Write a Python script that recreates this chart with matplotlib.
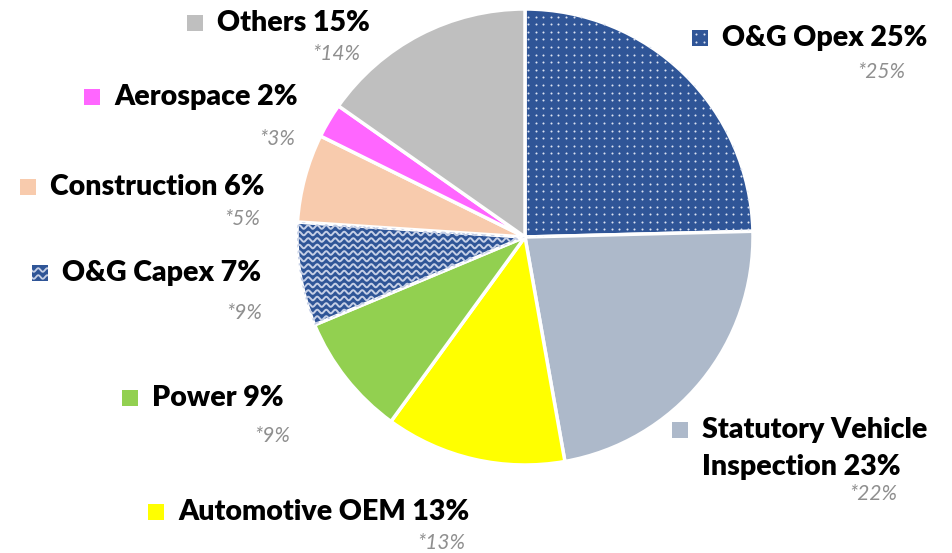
import numpy as np
import matplotlib.pyplot as plt
from matplotlib.patches import Rectangle

# segments, clockwise from 12 o'clock
segments = ["O&G Opex", "Statutory Vehicle\nInspection", "Automotive OEM", "Power",
            "O&G Capex", "Construction", "Aerospace", "Others"]
sizes = [24.6, 22.6, 12.8, 8.7, 7.35, 6.25, 2.45, 15.25]
shares = [25, 23, 13, 9, 7, 6, 2, 15]
prior = [25, 22, 13, 9, 9, 5, 3, 14]
colors = ["#2F5597", "#ADB9CA", "#FFFF00", "#92D050",
          "#2F5597", "#F8CBAD", "#FF66FF", "#BFBFBF"]

# label anchors in pixels from top-left (marker x, first line y, note right x, note y)
label_pos = [(700, 38, 905, 72), (680, 430, 897, 494), (156, 512, 465, 543),
             (130, 398, 290, 436), (40, 273, 262, 313), (28, 187, 260, 219),
             (92, 97, 295, 139), (195, 23, 360, 54)]

W, H = 953, 553
fig = plt.figure(figsize=(W / 100, H / 100), dpi=100)
ax = fig.add_axes([0, 0, 1, 1])

cx, cy, r = 525, H - 237, 228
wedges, _ = ax.pie(sizes, colors=colors, startangle=90, counterclock=False,
                   center=(cx, cy), radius=r, frame=True,
                   wedgeprops=dict(edgecolor="white", linewidth=2.5))
ax.set_xlim(0, W)
ax.set_ylim(0, H)
ax.set_aspect("equal")
ax.axis("off")


def dot_fill(patch, x0, x1, y0, y1, step=7.6):
    gx, gy = np.meshgrid(np.arange(x0, x1, step), np.arange(y0, y1, step))
    sc = ax.scatter(gx.ravel(), gy.ravel(), s=2.2, color="#DCE3F2", linewidths=0, zorder=3)
    sc.set_clip_path(patch)


def wave_fill(patch, x0, x1, y0, y1, step=6.5, lw=1.4):
    xs = np.linspace(x0, x1, 600)
    for yb in np.arange(y0, y1, step):
        ln, = ax.plot(xs, yb + 1.8 * np.sin(xs * 2 * np.pi / 9), color="#C5CFE6", lw=lw)
        ln.set_clip_path(patch)


# dotted fill on O&G Opex, wavy fill on O&G Capex
dot_fill(wedges[0], cx + 3, cx + r, cy, cy + r)
wave_fill(wedges[4], cx - r, cx, cy - 120, cy + 40)

font = "Lato"
for i, (name, s, p, col, (mx, my, nx, ny)) in enumerate(
        zip(segments, shares, prior, colors, label_pos)):
    sq = Rectangle((mx - 8, H - my - 8), 16, 16, facecolor=col, edgecolor="none")
    ax.add_patch(sq)
    if i == 0:
        dot_fill(sq, mx - 4, mx + 8, H - my - 4, H - my + 8, step=8)
    if i == 4:
        wave_fill(sq, mx - 8, mx + 8, H - my - 4, H - my + 8, step=7, lw=1.3)
    lines = f"{name} {s}%".split("\n")
    for k, line in enumerate(lines):
        ax.text(mx + 22, H - my - 37 * k, line, fontsize=20.5, fontweight="heavy",
                family=font, va="center", ha="left", color="black")
    ax.text(nx, H - ny, f"*{p}%", fontsize=15, fontstyle="italic", family=font,
            color="#8F8F8F", va="center", ha="right")

fig.savefig("out.png", dpi=100)
